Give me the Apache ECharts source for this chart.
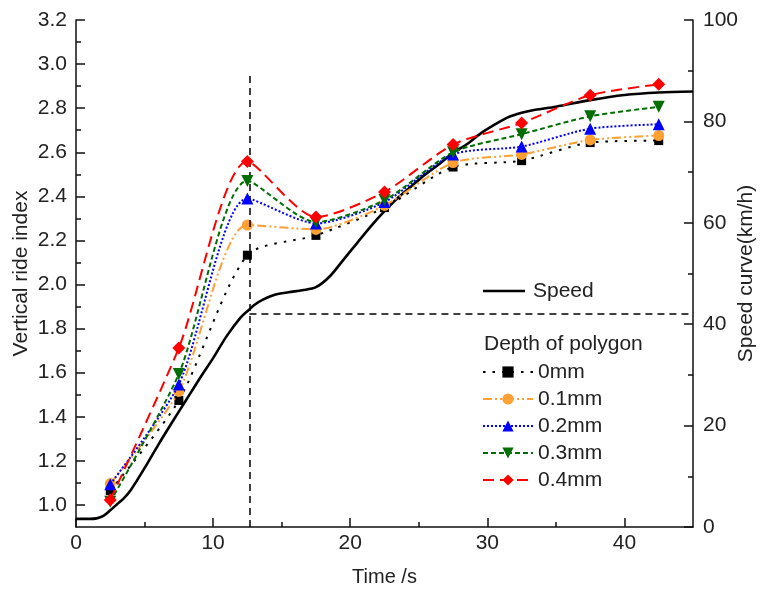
<!DOCTYPE html>
<html>
<head>
<meta charset="utf-8">
<script src="https://cdn.jsdelivr.net/npm/echarts@6/dist/echarts.min.js"></script>
<style>
html,body{margin:0;padding:0;background:#fff;}
#chart{width:761px;height:590px;}
</style>
</head>
<body>
<div id="chart"></div>
<script>
// ---- data ----
const sampleTimes = [2.5, 7.5, 12.5, 17.5, 22.5, 27.5, 32.5, 37.5, 42.5];
const depth0 = [1.065, 1.474, 2.133, 2.223, 2.349, 2.533, 2.562, 2.644, 2.653];
const depth01 = [1.097, 1.515, 2.270, 2.250, 2.359, 2.553, 2.590, 2.656, 2.676];
const depth02 = [1.094, 1.547, 2.390, 2.277, 2.374, 2.590, 2.626, 2.707, 2.727];
const depth03 = [1.015, 1.594, 2.470, 2.283, 2.383, 2.600, 2.682, 2.763, 2.806];
const depth04 = [1.023, 1.712, 2.558, 2.306, 2.420, 2.635, 2.733, 2.859, 2.908];

const speedTimes = [0, 1, 1.5, 2, 2.5, 3, 3.5, 4, 5, 6, 7, 8, 9, 10, 11, 12, 12.6, 13, 13.6, 14.5, 15.5, 16.5, 17.5, 18.5, 19.5, 20.5, 21.5, 22.5, 23.5, 24.5, 25.5, 26.5, 27.5, 28.5, 29.5, 30.5, 31.5, 32.5, 33.5, 35, 37.5, 40, 42.5, 45];
const speedValues = [1.6, 1.6, 1.7, 2.2, 3.3, 4.5, 5.7, 7.3, 11.6, 16.2, 20.6, 24.9, 29.2, 33.3, 37.7, 41.3, 42.8, 43.8, 44.8, 45.8, 46.3, 46.7, 47.3, 49.4, 52.7, 56.0, 59.3, 62.3, 65.0, 67.3, 69.6, 71.6, 73.8, 75.5, 77.6, 79.3, 80.8, 81.7, 82.3, 82.9, 84.2, 85.2, 85.7, 85.9];

const seriesNames = ['0mm', '0.1mm', '0.2mm', '0.3mm', '0.4mm'];
const xLabels = [0, 10, 20, 30, 40];
const xMinor = [5, 15, 25, 35];
const yLeftLabels = [1.0, 1.2, 1.4, 1.6, 1.8, 2.0, 2.2, 2.4, 2.6, 2.8, 3.0, 3.2];
const yLeftMinor = [1.1, 1.3, 1.5, 1.7, 1.9, 2.1, 2.3, 2.5, 2.7, 2.9, 3.1];
const refTime = 12.65;   // vertical reference line (s)
const refSpeed = 42;     // horizontal reference line (km/h)
const refTop = 89.5;     // top end of vertical line (km/h)

// ---- chart ----
const FONT = 'Liberation Sans, Arial, sans-serif';
const FS = 21;
const chart = echarts.init(document.getElementById('chart'), null, {renderer: 'canvas'});
const pair = (xs, ys) => xs.map((x, i) => [x, ys[i]]);

const axisLineStyle = {color: '#111', width: 1.5};
const labelStyle = {fontSize: FS, color: '#222', fontFamily: FONT};

const depthStyles = [
  {data: depth0, color: '#000000', type: [2.5, 7], symbol: 'rect', size: 9},
  {data: depth01, color: '#FFA033', type: [9, 3, 2, 3, 2, 3], symbol: 'circle', size: 11},
  {data: depth02, color: '#0000FF', type: [2, 2], symbol: 'triangle', size: 12},
  {data: depth03, color: '#006E00', type: [5, 3], symbol: 'path://M0,0 L10,0 L5,10 Z', size: 12},
  {data: depth04, color: '#FF0000', type: [11, 6], symbol: 'diamond', size: 13}
];

const series = [{
  name: 'Speed',
  type: 'line',
  xAxisIndex: 0,
  yAxisIndex: 1,
  data: pair(speedTimes, speedValues),
  smooth: 0.3,
  symbol: 'none',
  lineStyle: {color: '#000', width: 2.6},
  itemStyle: {color: '#000'},
  z: 2,
  markLine: {
    silent: true,
    symbol: 'none',
    label: {show: false},
    lineStyle: {color: '#000', width: 1.5, type: [7, 5]},
    data: [
      [{coord: [refTime, 0]}, {coord: [refTime, refTop]}],
      [{coord: [refTime, refSpeed]}, {coord: [45, refSpeed]}]
    ]
  }
}];

depthStyles.forEach((s, i) => {
  series.push({
    name: seriesNames[i],
    type: 'line',
    xAxisIndex: 0,
    yAxisIndex: 0,
    data: pair(sampleTimes, s.data),
    smooth: 0.25,
    symbol: s.symbol,
    symbolSize: s.size,
    showAllSymbol: true,
    lineStyle: {color: s.color, width: 2, type: s.type},
    itemStyle: {color: s.color},
    z: 3 + i
  });
});

chart.setOption({
  animation: false,
  backgroundColor: '#fff',
  textStyle: {fontFamily: FONT},
  grid: {left: 76, right: 68, top: 20, bottom: 63, containLabel: false, outerBoundsMode: 'none'},
  xAxis: [{
    type: 'value', min: 0, max: 45, position: 'bottom',
    axisLine: {show: true, onZero: false, lineStyle: axisLineStyle},
    axisTick: {show: true, inside: true, length: 9, lineStyle: axisLineStyle, customValues: xLabels},
    axisLabel: Object.assign({margin: 6, customValues: xLabels}, labelStyle),
    splitLine: {show: false},
    name: 'Time /s', nameLocation: 'middle', nameGap: 40, nameMoveOverlap: false,
    nameTextStyle: {fontSize: 20, color: '#222', fontFamily: FONT}
  }, {
    type: 'value', min: 0, max: 45, position: 'bottom',
    axisLine: {show: false},
    axisTick: {show: true, inside: true, length: 5, lineStyle: axisLineStyle, customValues: xMinor},
    axisLabel: {show: false},
    splitLine: {show: false}
  }],
  yAxis: [{
    type: 'value', min: 0.9, max: 3.2, position: 'left',
    axisLine: {show: true, onZero: false, lineStyle: axisLineStyle},
    axisTick: {show: true, inside: true, length: 9, lineStyle: axisLineStyle, customValues: yLeftLabels},
    axisLabel: Object.assign({margin: 9, customValues: yLeftLabels, formatter: v => v.toFixed(1)}, labelStyle),
    splitLine: {show: false},
    name: 'Vertical ride index', nameLocation: 'middle', nameGap: 44, nameRotate: 90, nameMoveOverlap: false,
    nameTextStyle: {fontSize: FS, color: '#222', fontFamily: FONT}
  }, {
    type: 'value', min: 0, max: 100, interval: 20, position: 'right',
    axisLine: {show: true, onZero: false, lineStyle: axisLineStyle},
    axisTick: {show: true, inside: true, length: 9, lineStyle: axisLineStyle},
    minorTick: {show: true, splitNumber: 2, length: 5, lineStyle: axisLineStyle},
    axisLabel: Object.assign({margin: 10}, labelStyle),
    splitLine: {show: false},
    minorSplitLine: {show: false},
    name: 'Speed curve(km/h)', nameLocation: 'middle', nameGap: 43, nameRotate: 90, nameMoveOverlap: false,
    nameTextStyle: {fontSize: FS, color: '#222', fontFamily: FONT}
  }, {
    type: 'value', min: 0.9, max: 3.2, position: 'left',
    axisLine: {show: false},
    axisTick: {show: true, inside: true, length: 5, lineStyle: axisLineStyle, customValues: yLeftMinor},
    axisLabel: {show: false},
    splitLine: {show: false}
  }],
  legend: [{
    data: [{name: 'Speed', icon: 'rect'}],
    left: 483, top: 277.5, padding: 0,
    itemWidth: 42, itemHeight: 2.5,
    textStyle: {fontSize: FS, color: '#222', fontFamily: FONT, lineHeight: 27, padding: [0, 0, 0, 3]},
    selectedMode: false
  }, {
    data: seriesNames,
    orient: 'vertical',
    left: 482, top: 358.5, padding: 0,
    itemWidth: 50, itemHeight: 14, itemGap: 0,
    textStyle: {fontSize: FS, color: '#222', fontFamily: FONT, lineHeight: 27},
    selectedMode: false
  }],
  graphic: [{
    type: 'text', left: 484, top: 334,
    style: {text: 'Depth of polygon', fontSize: FS, fill: '#222', fontFamily: FONT}
  }],
  series: series
});
</script>
</body>
</html>
